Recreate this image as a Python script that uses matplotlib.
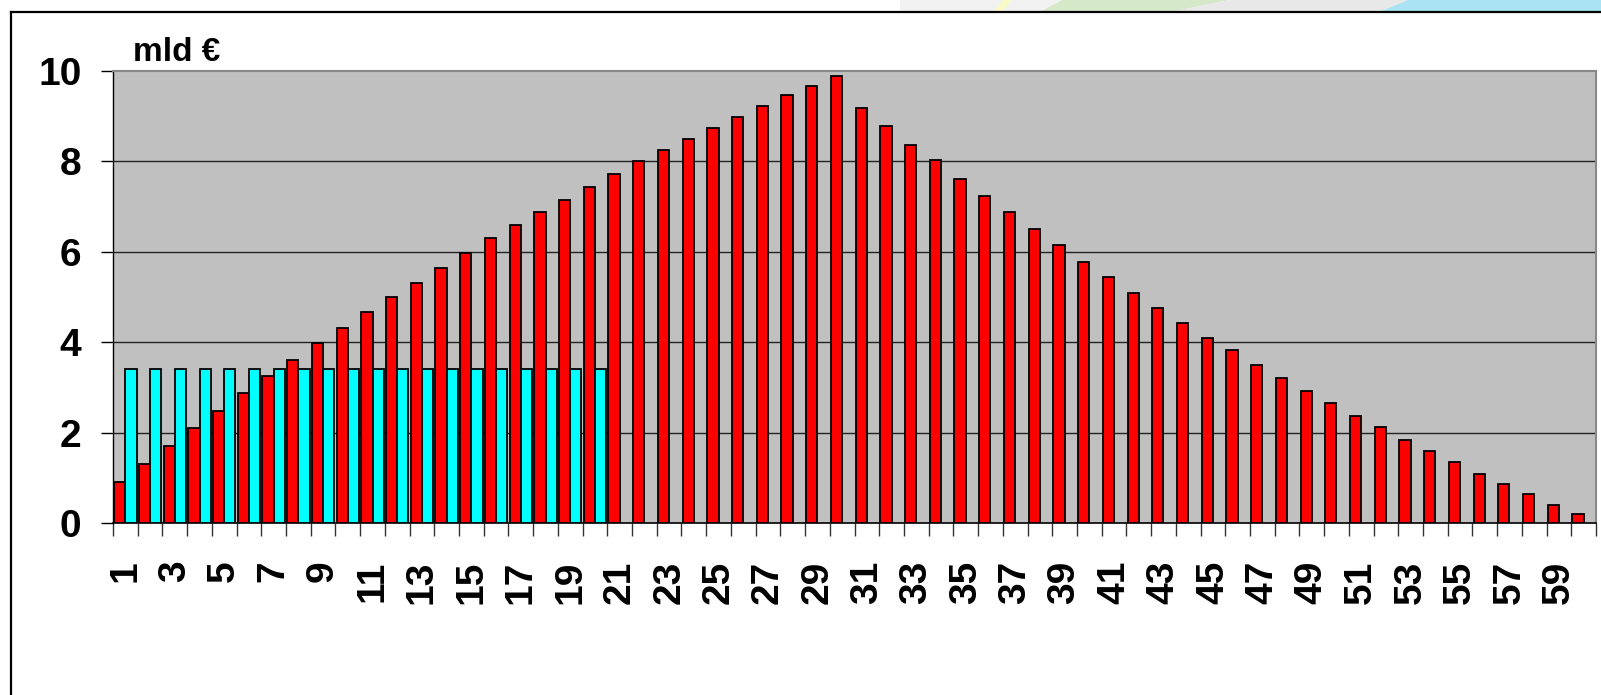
import numpy as np
import matplotlib
matplotlib.use("Agg")
import matplotlib.pyplot as plt
from matplotlib.patches import Polygon
from matplotlib.lines import Line2D

plt.rcParams['font.family'] = ['Liberation Sans Narrow', 'Liberation Sans', 'DejaVu Sans']
plt.rcParams['font.weight'] = 'bold'

# values (mld EUR per year)
years = list(range(1, 61))
red_values = [0.90, 1.30, 1.71, 2.11, 2.48, 2.88, 3.25, 3.61, 3.99, 4.31,
              4.67, 5.01, 5.32, 5.65, 5.97, 6.30, 6.59, 6.87, 7.15, 7.44,
              7.72, 8.01, 8.26, 8.50, 8.75, 8.98, 9.23, 9.48, 9.67, 9.88,
              9.19, 8.78, 8.37, 8.02, 7.60, 7.23, 6.87, 6.50, 6.14, 5.77,
              5.45, 5.08, 4.76, 4.43, 4.10, 3.83, 3.50, 3.21, 2.93, 2.65,
              2.36, 2.12, 1.83, 1.59, 1.34, 1.09, 0.86, 0.65, 0.40, 0.20]
cyan_values = [3.41] * 20
y_ticks = [0, 2, 4, 6, 8, 10]
unit_label = 'mld €'

W, H = 1601, 695
fig = plt.figure(figsize=(W / 100, H / 100), dpi=100)

# background layer in pixel coords for the slide frame and decor strip
bg = fig.add_axes([0, 0, 1, 1], zorder=0)
bg.set_xlim(0, W)
bg.set_ylim(H, 0)
bg.axis('off')
decor = [
    ([(900, 12), (900, 0), (1062, 0), (1040, 12)], '#f2f2f2'),
    ([(1040, 12), (1062, 0), (1230, 0), (1170, 12)], '#d5e8c8'),
    ([(993, 12), (1003, 0), (1012, 0), (1002, 12)], '#fafac8'),
    ([(1170, 12), (1230, 0), (1408, 0), (1379, 12)], '#e8e8e8'),
    ([(1379, 12), (1408, 0), (W, 0), (W, 12)], '#aae4f4'),
]
for pts, col in decor:
    bg.add_patch(Polygon(pts, closed=True, facecolor=col, edgecolor='none'))
bg.add_line(Line2D([11, W], [12, 12], color='black', lw=1.6))
bg.add_line(Line2D([11, 11], [12, H], color='black', lw=1.6))

left, top, right, bottom = 113, 71, 1596, 523
ax = fig.add_axes([left / W, 1 - bottom / H, (right - left) / W, (bottom - top) / H], zorder=2)
ax.set_facecolor('#c0c0c0')

x = np.arange(len(years))
bw = 0.4545
ax.bar(x - bw / 2, red_values, width=bw, color='#ff0000', edgecolor='black', linewidth=1.3, zorder=3)
xc = np.arange(len(cyan_values))
ax.bar(xc + bw / 2, cyan_values, width=bw, color='#00ffff', edgecolor='black', linewidth=1.3, zorder=3)

ax.set_xlim(-0.5, len(years) - 0.5)
ax.set_ylim(0, 10)

# grid
for v in y_ticks[1:-1]:
    ax.axhline(v, color='#222222', lw=1.0, zorder=1)

ax.spines['top'].set_color('#888888')
ax.spines['right'].set_color('#888888')
ax.spines['top'].set_linewidth(1.5)
ax.spines['right'].set_linewidth(1.5)
ax.spines['left'].set_color('black')
ax.spines['bottom'].set_color('black')
ax.spines['left'].set_linewidth(1.0)
ax.spines['bottom'].set_linewidth(1.2)

ax.set_yticks(y_ticks)
ax.set_yticklabels([str(v) for v in y_ticks], fontsize=28, fontweight='bold')
ax.tick_params(axis='y', length=8.6, width=1, pad=14, colors='black')

# category boundary ticks, labels on every other category
ax.set_xticks(np.arange(-0.5, len(years), 1.0))
ax.set_xticklabels([])
ax.tick_params(axis='x', which='major', length=9.4, width=1, color='#333333')
lab_pos = x[::2]
ax.set_xticks(lab_pos, minor=True)
ax.set_xticklabels([str(years[i]) for i in lab_pos], minor=True,
                   rotation=90, fontsize=28, fontweight='bold', va='top', ha='center')
ax.tick_params(axis='x', which='minor', length=0, pad=27)

fig.text(133 / W, 1 - 61 / H, unit_label, fontsize=24, fontweight='bold',
         ha='left', va='baseline')

fig.savefig('out.png', dpi=100)
